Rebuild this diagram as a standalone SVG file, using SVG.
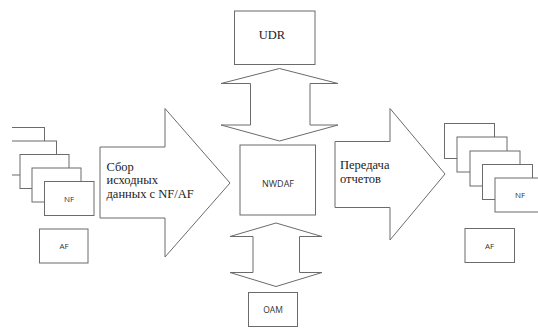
<svg xmlns="http://www.w3.org/2000/svg" width="538" height="328" viewBox="0 0 538 328">
<style>
.ln{fill:#fff;stroke:#6b6b6b;stroke-width:1}
.ser{font-family:"Liberation Serif","Times New Roman",serif;font-size:12.5px;fill:#222}
.sans{font-family:"Open Sans","Liberation Sans",sans-serif;fill:#333;text-anchor:middle}
</style>
<defs>
<clipPath id="clipL"><rect x="12" y="0" width="526" height="328"/></clipPath>
</defs>
<rect width="538" height="328" fill="#fff"/>
<g id="connectors">
<polygon class="ln" points="100,147 165,147 165,108.5 230,183 165,257 165,218 100,218"/>
<polygon class="ln" points="335,141.5 390,141.5 390,108.5 445,174 390,240 390,207.5 335,207.5"/>
<polygon class="ln" points="279.5,68.5 221,83.5 250.5,83.5 250.5,125 221,125 279.5,141 338,125 310,125 310,83.5 338,83.5"/>
<polygon class="ln" points="276,223 230,236.5 253,236.5 253,272.5 230,272.5 276,286.5 322,272.5 299.5,272.5 299.5,236.5 322,236.5"/>
<text class="ser" x="106.5" y="170.5">Сбор</text>
<text class="ser" x="106.5" y="184">исходных</text>
<text class="ser" x="106.5" y="197.5">данных с NF/AF</text>
<text class="ser" x="340" y="168.5">Передача</text>
<text class="ser" x="340" y="182.5">отчетов</text>
</g>
<g id="nf-left" clip-path="url(#clipL)">
<rect class="ln" x="-4.5" y="127.5" width="49" height="34"/>
<rect class="ln" x="7.5" y="141" width="49" height="34"/>
<rect class="ln" x="20" y="154.5" width="49" height="34"/>
<rect class="ln" x="32" y="168" width="49" height="34"/>
<rect class="ln" x="44.5" y="181.5" width="49.5" height="34"/>
<text class="sans" x="69" y="201.5" font-size="8">NF</text>
</g>
<g id="af-left">
<rect class="ln" x="39.5" y="229" width="48.5" height="34"/>
<text class="sans" x="64" y="249" font-size="8">AF</text>
</g>
<g id="udr">
<rect class="ln" x="234.5" y="11" width="80.5" height="53.5"/>
<text class="ser" x="272" y="39" text-anchor="middle">UDR</text>
</g>
<g id="nwdaf">
<rect class="ln" x="240" y="145" width="75.5" height="70"/>
<text class="sans" x="278" y="186.5" font-size="9">NWDAF</text>
</g>
<g id="oam">
<rect class="ln" x="248.5" y="292.5" width="49" height="34"/>
<text class="sans" x="273" y="312.5" font-size="8.5">OAM</text>
</g>
<g id="nf-right">
<rect class="ln" x="444.5" y="123.5" width="50" height="35"/>
<rect class="ln" x="457" y="137" width="50" height="35"/>
<rect class="ln" x="470" y="151" width="50" height="35"/>
<rect class="ln" x="482.5" y="164.5" width="50" height="35"/>
<rect class="ln" x="495" y="178" width="50" height="34"/>
<text class="sans" x="520" y="198" font-size="8">NF</text>
</g>
<g id="af-right">
<rect class="ln" x="465" y="228.5" width="49.5" height="34"/>
<text class="sans" x="489.5" y="248.5" font-size="8">AF</text>
</g>
</svg>
